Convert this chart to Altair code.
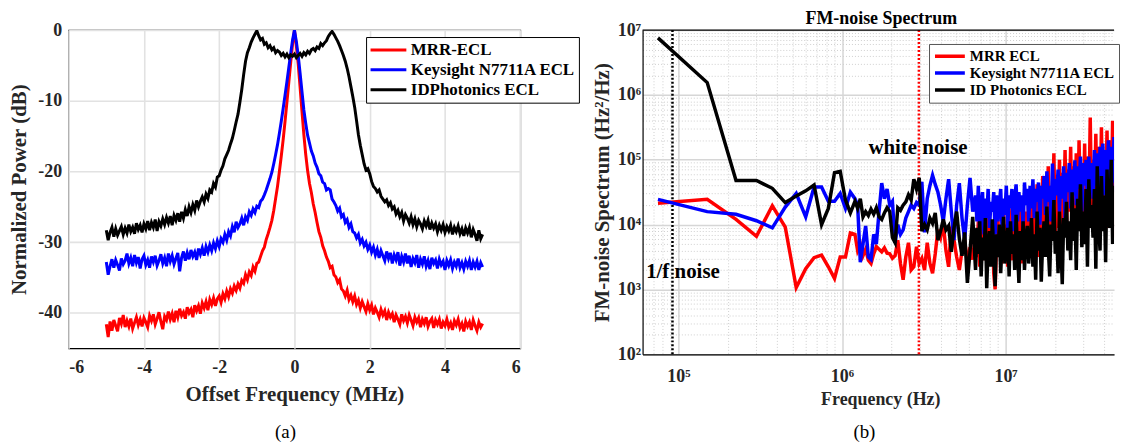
import altair as alt
import numpy as np
import pandas as pd

FONT = "Liberation Serif"
INK = "#262626"

# ---------------- panel (a): normalized spectra (0.05 MHz steps) ----------------
offset_mhz = [round(-5.0 + 0.05 * i, 2) for i in range(201)]

mrr_db = [
    -41.6, -43.4, -41.2, -42.5, -41.0, -41.8, -42.6, -40.7, -41.5, -40.3,
    -42.0, -41.1, -41.9, -40.8, -42.2, -41.4, -40.6, -41.7, -40.9, -41.9,
    -40.7, -41.3, -42.0, -40.4, -41.1, -40.2, -41.6, -40.8, -39.9, -41.2,
    -42.3, -40.5, -41.0, -39.8, -40.9, -40.1, -41.3, -39.7, -40.6, -39.4,
    -40.4, -39.9, -40.8, -39.2, -40.0, -39.5, -40.6, -38.9, -39.7, -39.0,
    -40.1, -38.6, -39.3, -38.4, -39.6, -38.1, -38.8, -37.9, -39.0, -38.0,
    -37.6, -38.5, -37.3, -38.0, -36.9, -37.7, -36.6, -37.2, -36.2, -36.8,
    -35.9, -36.5, -35.4, -35.8, -34.6, -35.3, -34.2, -34.7, -33.5, -34.1,
    -33.0, -32.8, -32.0, -31.2, -30.7, -29.6, -28.8, -27.9, -26.9, -25.5,
    -23.8, -22.1, -20.0, -17.8, -15.5, -12.9, -10.2, -7.4, -4.6, -2.0,
    0.0,
    -2.2, -4.8, -8.1, -11.5, -14.8, -17.6, -19.9, -21.7, -23.0, -24.6,
    -25.8, -27.2, -28.5, -29.3, -30.5, -31.2, -32.1, -32.7, -33.6, -33.4,
    -34.6, -34.9, -35.7, -35.3, -36.6, -36.9, -37.6, -36.8, -38.1, -37.5,
    -38.4, -37.6, -38.8, -38.2, -39.3, -38.4, -39.1, -39.8, -38.7, -39.6,
    -38.9, -40.2, -39.3, -39.9, -40.6, -39.5, -40.3, -39.7, -41.0, -39.9,
    -40.6, -40.1, -41.3, -40.3, -40.9, -41.6, -40.2, -41.1, -40.5, -41.4,
    -40.3, -41.0, -41.8, -40.6, -41.3, -40.7, -42.0, -40.9, -41.5, -40.6,
    -41.9, -41.2, -40.8, -42.1, -41.0, -41.6, -40.9, -42.2, -41.3, -41.8,
    -40.9, -42.0, -41.4, -42.4, -41.1, -41.7, -40.9, -42.1, -41.5, -42.6,
    -41.2, -41.9, -41.3, -42.4, -41.0, -41.8, -42.5, -41.3, -42.0, -41.5,
]
keysight_db = [
    -32.8, -34.6, -33.4, -32.4, -33.6, -32.5, -33.2, -34.0, -32.3, -33.1,
    -32.6, -31.6, -33.0, -32.2, -33.4, -31.8, -32.9, -32.1, -33.7, -32.4,
    -31.9, -33.2, -32.5, -33.6, -32.0, -32.8, -31.9, -33.3, -32.6, -31.7,
    -33.0, -32.2, -33.4, -31.6, -32.7, -31.9, -33.1, -32.3, -31.5, -34.1,
    -32.2, -31.3, -32.6, -31.5, -32.4, -31.1, -32.0, -31.4, -32.5, -30.9,
    -31.7, -30.8, -31.9, -30.6, -31.4, -30.4, -31.2, -30.1, -30.9, -29.8,
    -30.6, -29.5, -30.0, -28.9, -29.7, -28.5, -29.1, -27.8, -28.6, -27.1,
    -27.9, -27.4, -26.6, -27.6, -26.4, -26.9, -25.7, -26.2, -25.3, -25.8,
    -24.9, -25.1, -24.2, -23.9, -23.3, -22.6, -21.8, -21.0, -20.1, -18.9,
    -17.6, -16.2, -14.6, -12.9, -11.1, -9.2, -7.3, -5.3, -3.3, -1.4,
    0.0,
    -1.6, -3.6, -6.1, -8.7, -11.3, -13.2, -14.9, -16.0, -17.1, -17.8,
    -18.8, -19.4, -20.3, -20.6, -21.5, -21.7, -22.6, -22.4, -22.6, -23.9,
    -24.3, -24.8, -25.6, -25.2, -26.4, -26.1, -27.2, -26.8, -27.9, -27.4,
    -28.5, -28.7, -29.4, -28.9, -30.1, -29.6, -30.5, -30.0, -31.0, -30.4,
    -31.4, -30.7, -31.8, -31.0, -32.2, -31.2, -31.9, -32.6, -31.3, -32.3,
    -31.5, -33.0, -31.8, -32.5, -31.4, -33.3, -32.0, -32.8, -31.6, -33.0,
    -31.9, -33.5, -32.3, -32.9, -31.8, -33.6, -32.4, -33.1, -32.0, -33.4,
    -32.6, -33.8, -32.2, -33.0, -32.5, -33.7, -32.4, -33.2, -32.7, -33.9,
    -32.6, -33.3, -32.5, -33.7, -32.8, -33.4, -32.3, -33.6, -32.9, -33.8,
    -32.7, -33.4, -32.6, -33.9, -32.8, -33.5, -32.7, -33.9, -32.9, -33.5,
]
idphotonics_db = [
    -28.3, -29.7, -28.6, -27.9, -29.2, -28.1, -29.0, -28.4, -27.8, -28.9,
    -28.0, -28.7, -27.5, -28.5, -27.9, -28.8, -27.3, -28.2, -27.6, -28.6,
    -27.4, -28.1, -27.0, -28.3, -27.2, -27.9, -26.8, -28.4, -27.1, -27.7,
    -26.7, -27.5, -26.5, -27.3, -26.3, -27.6, -26.2, -26.9, -25.9, -27.1,
    -25.7, -26.6, -25.4, -26.3, -25.0, -25.8, -24.7, -25.5, -24.1, -25.0,
    -24.2, -23.6, -24.3, -23.2, -23.8, -22.6, -22.9, -21.7, -22.2, -20.8,
    -20.6, -19.8, -19.2, -18.2, -17.6, -17.0, -16.1, -15.3, -14.2, -13.0,
    -11.9, -10.2, -8.4, -6.3, -4.4, -3.2, -2.5, -1.7, -1.1, -0.6,
    -0.1, -0.8, -1.4, -1.2, -2.0, -1.8, -2.5, -2.2, -2.8, -2.5,
    -3.2, -2.9, -3.1, -3.6, -3.3, -3.8, -3.4, -3.9, -3.5, -3.7,
    -3.4,
    -3.9, -3.6, -3.3, -3.7, -3.2, -3.5, -3.0, -3.3, -2.8, -2.6,
    -2.9, -2.4, -2.6, -1.9, -2.2, -1.8, -1.5, -0.9, -0.5, -0.2,
    -0.6, -1.1, -1.6, -2.2, -2.9, -3.6, -4.4, -5.4, -6.6, -8.0,
    -9.4, -10.9, -12.8, -14.8, -16.3, -17.6, -18.9, -19.8, -19.6, -20.3,
    -21.4, -22.1, -22.4, -22.9, -22.6, -23.5, -23.9, -24.3, -24.0, -24.8,
    -24.4, -25.3, -25.0, -26.0, -25.5, -26.4, -25.8, -27.0, -26.1, -26.6,
    -27.3, -26.4, -27.5, -26.7, -27.8, -26.9, -27.4, -28.1, -27.0, -27.7,
    -26.9, -28.2, -27.3, -28.0, -27.4, -28.5, -27.6, -28.3, -27.5, -28.6,
    -27.8, -28.4, -27.6, -28.9, -27.9, -28.5, -27.7, -28.8, -28.1, -29.1,
    -28.0, -28.7, -27.9, -29.3, -28.2, -28.9, -29.8, -28.3, -29.5, -28.9,
]
series_a = ["MRR-ECL", "Keysight N7711A ECL", "IDPhotonics ECL"]
line_colors = ["#ff0000", "#0000ff", "#000000"]

# ---------------- panel (b): FM-noise spectrum ----------------
fm_freq_hz = (
    [75e3 * n for n in range(1, 16)]
    + [float(v) for v in np.geomspace(1.2e6, 6.295e6, 45)]
    + [float(v) for v in np.geomspace(6.55e6, 5.6e7, 110)]
)

mrr_fm_log10 = [
    4.33, 4.39, 4.08, 3.82, 4.29, 3.96, 3.03, 3.32, 3.49, 3.53, 3.35, 3.17, 3.50, 3.50, 3.87,
    3.85, 3.60, 3.70, 3.52, 3.62, 3.45, 3.40, 3.55, 3.66, 3.62,
    3.58, 3.64, 3.56, 3.55, 3.48, 3.52, 3.76, 3.40, 3.15, 3.50,
    3.72, 3.30, 3.35, 3.66, 3.40, 3.48, 3.30, 3.72, 3.40, 3.25,
    3.55, 3.92, 3.80, 4.02, 3.60, 3.35, 3.97, 3.76, 3.50, 3.30,
    3.60, 3.76, 3.40, 3.65, 3.46,
    3.90, 3.50, 4.05, 3.35, 3.80, 4.10, 3.45, 3.95, 3.60, 4.15,
    3.40, 3.85, 4.05, 3.25, 3.00, 3.70, 4.10, 3.50, 3.95, 3.40,
    4.20, 3.55, 4.00, 3.35, 4.25, 3.70, 3.45, 4.15, 3.60, 4.30,
    3.50, 4.35, 3.75, 3.40, 4.40, 3.65, 4.20, 3.55, 4.45, 3.80,
    4.55, 3.60, 4.30, 3.85, 4.62, 3.50, 4.40, 3.90, 4.75, 3.70,
    4.50, 3.95, 4.90, 3.65, 4.60, 4.05, 5.10, 3.80, 4.70, 3.95,
    5.00, 3.75, 4.80, 4.10, 5.15, 3.90, 4.85, 4.20, 5.20, 3.85,
    4.90, 4.15, 5.10, 3.95, 5.30, 4.25, 4.95, 4.05, 5.25, 3.90,
    5.05, 4.30, 5.65, 4.10, 5.00, 4.35, 5.40, 3.95, 5.20, 4.20,
    5.50, 4.05, 5.15, 4.40, 5.45, 3.95, 5.30, 4.25, 5.60, 3.80,
    5.35, 4.10, 5.55, 3.76, 5.20, 4.30, 5.60, 3.90, 5.40, 4.15,
]
keysight_fm_log10 = [
    4.39, 4.20, 4.16, 4.06, 3.95, 4.27, 4.48, 4.12, 4.58, 4.58, 4.36, 4.36, 4.48, 4.25, 4.50,
    4.40, 4.30, 3.42, 3.70, 3.98, 3.50, 3.46, 3.85, 3.70, 4.20,
    4.64, 4.40, 4.55, 4.30, 4.36, 3.72, 4.00, 3.85, 3.92, 4.10,
    4.20, 4.30, 4.25, 4.34, 4.30, 4.66, 3.88, 4.40, 4.60, 4.76,
    4.62, 4.50, 4.30, 4.05, 4.40, 4.70, 4.20, 3.76, 4.30, 4.64,
    4.10, 3.76, 4.30, 4.72, 4.20,
    4.45, 4.05, 4.60, 3.90, 4.30, 4.50, 3.85, 4.40, 4.10, 4.55,
    3.95, 4.35, 4.20, 4.50, 3.85, 4.45, 4.05, 4.30, 4.55, 3.90,
    4.40, 4.15, 4.60, 3.95, 4.45, 4.25, 4.55, 3.90, 4.40, 4.62,
    4.05, 4.50, 4.20, 4.45, 3.95, 4.65, 4.30, 4.55, 4.05, 4.60,
    4.25, 4.70, 4.10, 4.55, 4.35, 4.65, 4.00, 4.60, 4.40, 4.75,
    4.15, 4.82, 4.35, 4.60, 4.05, 4.94, 4.30, 4.70, 4.45, 4.85,
    4.20, 4.75, 4.40, 4.90, 4.10, 4.80, 4.50, 4.95, 4.25, 4.85,
    4.45, 4.99, 4.30, 4.90, 4.55, 5.05, 4.20, 4.95, 4.60, 5.00,
    4.35, 5.05, 4.50, 4.95, 4.40, 5.15, 4.60, 5.10, 4.30, 5.20,
    4.55, 5.25, 4.45, 5.15, 4.70, 5.30, 4.40, 5.20, 4.65, 5.35,
    4.50, 5.40, 4.60, 5.25, 4.75, 5.45, 4.55, 5.30, 4.70, 5.40,
]
idphotonics_fm_log10 = [
    6.88, 6.19, 4.68, 4.68, 4.56, 4.34, 4.44, 4.52, 4.61, 4.00, 4.25, 4.80, 4.82, 4.38, 4.18,
    4.36, 4.25, 4.40, 4.12, 4.20, 4.14, 4.24, 4.16, 4.26, 4.12,
    4.08, 4.18, 4.26, 4.20, 3.80, 3.72, 4.26, 4.22, 4.30, 4.35,
    4.46, 4.38, 4.70, 4.55, 4.72, 3.90, 4.00, 3.92, 4.10, 4.02,
    4.18, 3.76, 3.90, 4.08, 3.92, 3.98, 3.58, 3.95, 4.20, 3.78,
    3.52, 3.88, 3.10, 3.60, 4.12,
    3.30, 3.95, 3.55, 4.05, 3.20, 3.80, 3.45, 4.10, 3.02, 3.70,
    3.90, 3.35, 4.08, 3.60, 3.05, 3.85, 3.50, 4.00, 3.25, 3.75,
    4.12, 3.40, 3.65, 3.95, 3.20, 4.05, 3.55, 3.85, 3.30, 4.15,
    3.60, 3.10, 3.90, 3.45, 4.05, 3.30, 3.80, 3.98, 3.40, 3.70,
    4.10, 3.35, 3.85, 3.15, 4.20, 3.60, 3.95, 3.12, 3.75, 4.05,
    3.50, 4.28, 3.65, 3.20, 4.00, 3.75, 4.38, 3.55, 3.90, 3.25,
    4.20, 3.70, 3.08, 4.10, 3.80, 4.35, 3.60, 4.05, 3.45, 4.50,
    3.75, 4.25, 3.30, 4.40, 3.90, 4.62, 3.65, 4.20, 3.70, 4.55,
    3.35, 4.70, 3.95, 4.30, 3.80, 4.55, 3.32, 4.90, 4.00, 3.60,
    4.75, 3.90, 4.45, 3.42, 4.85, 4.10, 3.95, 5.00, 3.70, 4.60,
    3.95, 4.80, 3.60, 5.14, 4.20, 3.80, 4.95, 4.10, 4.60, 3.90,
]
series_b = ["MRR ECL", "Keysight N7711A ECL", "ID Photonics ECL"]

marker_freq_hz = [9.2e4, 2.95e6]
marker_color = ["#000000", "#ff0000"]
annot_text = ["1/f noise", "white noise"]
annot_freq_hz = [6.35e4, 1.45e6]
annot_value = [1.85e3, 1.5e5]

# ---------------- tables ----------------
rows = []
for name, vals in zip(series_a, [mrr_db, keysight_db, idphotonics_db]):
    for f, v in zip(offset_mhz, vals):
        rows.append({"f": f, "p": v, "laser": name})
df_a = pd.DataFrame(rows)

rows = []
for name, vals in zip(series_b, [mrr_fm_log10, keysight_fm_log10, idphotonics_fm_log10]):
    for f, v in zip(fm_freq_hz, vals):
        rows.append({"f": f, "v": 10 ** v, "laser": name})
df_b = pd.DataFrame(rows)

df_mark = pd.DataFrame({"f": marker_freq_hz, "c": marker_color})
df_annot = pd.DataFrame({"f": annot_freq_hz, "v": annot_value, "t": annot_text})

W_A, H_A = 454, 320
W_B, H_B = 474, 326
X_MAX_B = 4.6e7

NEG = "datum.value < 0 ? '-' + abs(datum.value) : '' + datum.value"

common_axis = dict(
    ticks=False, grid=True,
    labelFont=FONT, labelFontWeight="bold", labelColor=INK,
    titleFont=FONT, titleFontWeight="bold", titleColor=INK,
)

x_a = alt.X("f:Q", scale=alt.Scale(domain=[-6, 6], nice=False, zero=False),
            axis=alt.Axis(values=[-6, -4, -2, 0, 2, 4, 6], title="Offset Frequency (MHz)",
                          labelExpr=NEG, gridColor="#e2e2e2", gridWidth=1.6, domain=False,
                          labelFontSize=18, labelPadding=10, titleFontSize=21, titlePadding=7,
                          **common_axis))
y_a = alt.Y("p:Q", scale=alt.Scale(domain=[-45, 0], nice=False, zero=False),
            axis=alt.Axis(values=[-40, -30, -20, -10, 0], title="Normalized Power (dB)",
                          labelExpr=NEG, gridColor="#e2e2e2", gridWidth=1.6, domain=False,
                          labelFontSize=18, labelPadding=7, titleFontSize=21, titlePadding=8,
                          **common_axis))

legend_a = alt.Legend(
    title=None, orient="none", legendX=299, legendY=7, direction="vertical",
    symbolType="stroke", symbolSize=1296, symbolStrokeWidth=3, clipHeight=20, rowPadding=0,
    labelFont=FONT, labelFontSize=17, labelFontWeight="bold", labelColor="#000", labelOffset=3,
    labelLimit=400, padding=3, strokeColor="#000", fillColor="#fff", cornerRadius=0,
)

lines_a = alt.Chart(df_a).mark_line(strokeWidth=3, clip=True).encode(
    x=x_a, y=y_a,
    color=alt.Color("laser:N", scale=alt.Scale(domain=series_a, range=line_colors), legend=legend_a),
)
cap_a = alt.Chart(pd.DataFrame({"t": ["(a)"]})).mark_text(
    font=FONT, fontSize=19, color="#000", baseline="middle", align="center"
).encode(text="t:N", x=alt.value(218), y=alt.value(404))

panel_a = alt.layer(lines_a, cap_a).properties(
    width=W_A, height=H_A, view=alt.ViewBackground(stroke="#000", strokeWidth=1.2)
)

# ---- panel b ----
SUP = ("abs(log(datum.value)/LN10 - round(log(datum.value)/LN10)) < 0.01 ? "
       "'10' + ['\u2070','\u00b9','\u00b2','\u00b3','\u2074','\u2075','\u2076','\u2077','\u2078','\u2079']"
       "[round(log(datum.value)/LN10)] : ''")
MAJOR = "abs(log(datum.value)/LN10 - round(log(datum.value)/LN10)) < 0.01"

x_ticks_b = [k * 10 ** e for e in range(4, 8) for k in range(1, 10) if 6.04e4 <= k * 10 ** e <= X_MAX_B]
y_ticks_b = [k * 10 ** e for e in range(2, 7) for k in range(1, 10)] + [1e7]

grid_b = dict(
    gridColor={"condition": {"test": MAJOR, "value": "#d6d6d6"}, "value": "#cfcfcf"},
    gridDash={"condition": {"test": MAJOR, "value": []}, "value": [1, 2]},
    gridWidth={"condition": {"test": MAJOR, "value": 1.5}, "value": 1},
)

x_b = alt.X("f:Q", scale=alt.Scale(type="log", domain=[6.04e4, X_MAX_B], nice=False),
            axis=alt.Axis(values=x_ticks_b, labelExpr=SUP, labelOverlap=False, title="Frequency (Hz)",
                          labelFontSize=18, labelPadding=13, titleFontSize=18, titlePadding=5,
                          titleX=239, domain=True, domainColor="#000", domainWidth=1.2,
                          **grid_b, **common_axis))
y_b = alt.Y("v:Q", scale=alt.Scale(type="log", domain=[1e2, 1e7], nice=False),
            axis=alt.Axis(values=y_ticks_b, labelExpr=SUP, labelOverlap=False,
                          title="FM-noise Spectrum (Hz\u00b2/Hz)",
                          labelFontSize=18, labelPadding=2, titleFontSize=21, titlePadding=5,
                          domain=True, domainColor="#000", domainWidth=1.2,
                          **grid_b, **common_axis))

legend_b = alt.Legend(
    title=None, orient="none", legendX=288, legendY=14, direction="vertical",
    symbolType="stroke", symbolSize=900, symbolStrokeWidth=3.5, clipHeight=16.5, rowPadding=0,
    labelFont=FONT, labelFontSize=15, labelFontWeight="bold", labelColor="#000", labelOffset=3,
    labelLimit=400, padding=4, strokeColor="#555555", fillColor="#fff", cornerRadius=0,
)

lines_b = alt.Chart(df_b).mark_line(strokeWidth=3.5, clip=True).encode(
    x=x_b, y=y_b,
    color=alt.Color("laser:N", scale=alt.Scale(domain=series_b, range=line_colors), legend=legend_b),
)
rules_b = alt.Chart(df_mark).mark_rule(strokeWidth=2.5, strokeDash=[2, 2]).encode(
    x="f:Q", color=alt.Color("c:N", scale=None),
)
top_frame_b = alt.Chart(pd.DataFrame({"k": [0]})).mark_rule(color="#000", strokeWidth=1.2).encode(
    y=alt.value(0)
)
annot_b = alt.Chart(df_annot).mark_text(
    font=FONT, fontSize=21, fontWeight="bold", color="#000", align="left", baseline="middle"
).encode(x="f:Q", y="v:Q", text="t:N")
cap_b = alt.Chart(pd.DataFrame({"t": ["(b)"]})).mark_text(
    font=FONT, fontSize=19, color="#000", baseline="middle", align="center"
).encode(text="t:N", x=alt.value(223), y=alt.value(404))

panel_b = alt.layer(rules_b, lines_b, top_frame_b, annot_b, cap_b).properties(
    width=W_B, height=H_B,
    title=alt.TitleParams(text="FM-noise Spectrum", font=FONT, fontSize=18, fontWeight="bold",
                          color="#000", offset=-7, anchor="middle", dx=3),
)

chart = (
    alt.hconcat(panel_a, panel_b, spacing=123, bounds="flush")
    .resolve_scale(color="independent")
    .resolve_legend(color="independent")
    .properties(padding=0)
    .configure(font=FONT)
    .configure_axis(labelFont=FONT, titleFont=FONT)
    .configure_legend(labelFont=FONT)
    .configure_title(font=FONT)
    .configure_view(stroke="transparent")
)

chart.save("out.html", embed_options={"renderer": "svg", "actions": False})
